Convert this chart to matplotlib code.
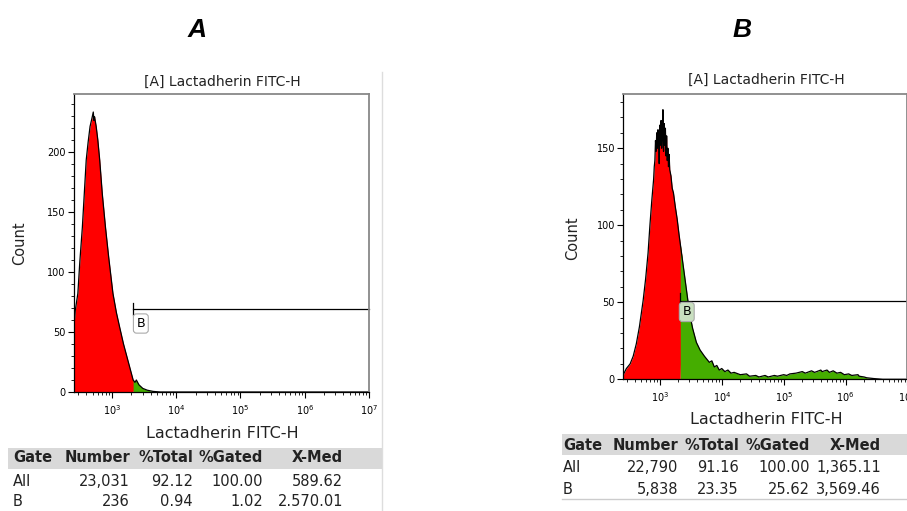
import numpy as np
import matplotlib
matplotlib.use('Agg')
import matplotlib.pyplot as plt
from matplotlib.ticker import MultipleLocator, LogLocator, LogFormatterMathtext, NullFormatter

# --- panel A histogram (log10 intensity, count) ---
a_logx = [2.41, 2.43, 2.47, 2.50, 2.54, 2.57, 2.60, 2.63, 2.66, 2.69, 2.71, 2.72, 2.73, 2.755,
          2.78, 2.81, 2.85, 2.90, 2.95, 3.016, 3.07, 3.12, 3.18, 3.25, 3.30, 3.33, 3.36,
          3.38, 3.42, 3.48, 3.55, 3.64, 3.75, 7.0]
a_count = [55, 68, 82, 108, 137, 165, 193, 208, 221, 228, 233, 226, 229, 221,
           210, 193, 165, 137, 112, 82, 66, 54, 40, 26, 16, 10, 8,
           10, 6, 3, 1.5, 0.5, 0, 0]

# --- panel B histogram ---
b_logx = [2.41, 2.46, 2.52, 2.57, 2.62, 2.67, 2.73, 2.77, 2.81, 2.84, 2.87, 2.90, 2.91,
          2.92, 2.93, 2.94, 2.95, 2.96, 2.97, 2.98, 2.99, 3.00, 3.01, 3.02, 3.03, 3.04,
          3.05, 3.06, 3.07, 3.08, 3.09, 3.10, 3.11, 3.12, 3.13, 3.14, 3.15, 3.16, 3.18,
          3.20, 3.22, 3.25, 3.28, 3.31, 3.33, 3.36, 3.40, 3.44, 3.48, 3.53, 3.59, 3.65,
          3.72, 3.80, 3.84, 3.88, 3.92, 3.96, 4.00, 4.05, 4.10, 4.15, 4.20, 4.30, 4.40,
          4.45, 4.55, 4.60, 4.70, 4.75, 4.85, 4.90, 5.00, 5.05, 5.10, 5.20, 5.30, 5.35,
          5.45, 5.50, 5.60, 5.62, 5.70, 5.74, 5.80, 5.86, 5.92, 5.98, 6.05, 6.10, 6.20,
          6.22, 6.30, 6.34, 6.45, 6.60, 7.0]
b_count = [3, 7, 10, 15, 23, 34, 51, 65, 82, 100, 116, 130, 138,
           142, 155, 148, 160, 150, 162, 158, 140, 165, 152, 168, 150, 160,
           175, 148, 166, 152, 163, 145, 158, 142, 150, 138, 146, 136, 132,
           124, 121, 112, 104, 94, 88, 79, 67, 55, 43, 33, 24, 19,
           15, 11, 12, 8, 9, 6, 7, 5, 6, 4, 4.5, 3, 3.5,
           2, 2.5, 1.5, 2.5, 1.5, 2.5, 2, 3, 2.5, 3.5, 4, 5, 4,
           5.5, 4.5, 6, 5, 6, 4.5, 5.5, 4, 4.5, 3, 3.5, 2.5, 3,
           2, 1.5, 1, 0.5, 0, 0]

# gate B (start log10 x, level)
gate_a = (3.33, 68.7)
gate_b = (3.33, 51)

title = '[A] Lactadherin FITC-H'
xlab = 'Lactadherin FITC-H'
tbl_header = ['Gate', 'Number', '%Total', '%Gated', 'X-Med']
tbl_a = [['All', '23,031', '92.12', '100.00', '589.62'],
         ['B', '236', '0.94', '1.02', '2.570.01']]
tbl_b = [['All', '22,790', '91.16', '100.00', '1,365.11'],
         ['B', '5,838', '23.35', '25.62', '3,569.46']]

RED = '#ff0000'
GREEN = '#45ad00'
W, H = 907, 511

fig = plt.figure(figsize=(W / 100, H / 100), dpi=100)
plt.rcParams['font.family'] = 'DejaVu Sans'


def px(x, y):
    return x / W, 1 - y / H


def draw_hist(ax, logx, cnt, gate, ymax, major_y, label_xy, label_fc):
    x = 10 ** np.array(logx)
    y = np.array(cnt, dtype=float)
    gx = 10 ** gate[0]
    ax.fill_between(x, y, where=x <= gx, color=RED, lw=0, interpolate=True)
    ax.fill_between(x, y, where=x >= gx, color=GREEN, lw=0, interpolate=True)
    ax.plot(x, y, color='black', lw=0.9)
    ax.plot([gx, 1e7], [gate[1], gate[1]], color='black', lw=0.9, clip_on=False)
    ax.plot([gx, gx], [gate[1] - 5, gate[1] + 5], color='black', lw=0.9)
    ax.text(10 ** label_xy[0], label_xy[1], 'B', fontsize=9, ha='center', va='center',
            bbox=dict(boxstyle='round,pad=0.25', fc=label_fc, ec='#aaaaaa', lw=0.8))
    ax.set_xscale('log')
    ax.set_xlim(10 ** 2.41, 1e7)
    ax.set_ylim(0, ymax)
    ax.xaxis.set_major_locator(LogLocator(base=10, subs=(1.0,)))
    ax.xaxis.set_major_formatter(LogFormatterMathtext())
    ax.xaxis.set_minor_locator(LogLocator(base=10, subs=np.arange(2, 10)))
    ax.xaxis.set_minor_formatter(NullFormatter())
    ax.set_xticks([1e3, 1e4, 1e5, 1e6, 1e7])
    ax.yaxis.set_major_locator(MultipleLocator(major_y))
    ax.yaxis.set_minor_locator(MultipleLocator(10))
    ax.tick_params(which='major', length=4, width=0.8, labelsize=7, pad=2)
    ax.tick_params(which='minor', length=2.5, width=0.6)
    ax.tick_params(axis='x', which='major', labelsize=7, pad=4)
    for s in ['top', 'right']:
        ax.spines[s].set_color('#888888')
        ax.spines[s].set_linewidth(1.3)
    for s in ['left', 'bottom']:
        ax.spines[s].set_linewidth(0.9)


# panel A
l, t = px(74, 94)
r, b = px(369, 392)
axA = fig.add_axes([l, b, r - l, t - b])
draw_hist(axA, a_logx, a_count, gate_a, 248, 50, (3.45, 57), 'white')

# panel B (its right edge runs off the picture, as in the original)
l, t = px(623.3, 94.3)
r, b = px(907.5, 379.3)
axB = fig.add_axes([l, b, r - l, t - b])
draw_hist(axB, b_logx, b_count, gate_b, 185, 50, (3.435, 43.7), '#c9dfc0')

# panel letters and labels
fig.text(*px(197, 30), 'A', fontsize=19, fontweight='bold', fontstyle='italic',
         family='Liberation Sans', ha='center', va='center')
fig.text(*px(742, 30), 'B', fontsize=19, fontweight='bold', fontstyle='italic',
         family='Liberation Sans', ha='center', va='center')
fig.text(*px(222, 82), title, fontsize=10, ha='center', va='center', color='#222222')
fig.text(*px(766, 80), title, fontsize=10, ha='center', va='center', color='#222222')
fig.text(*px(20, 243), 'Count', fontsize=10.5, rotation=90, ha='center', va='center', color='#222222')
fig.text(*px(573, 238), 'Count', fontsize=10.5, rotation=90, ha='center', va='center', color='#222222')
fig.text(*px(222, 434), xlab, fontsize=11.5, ha='center', va='center', color='#222222')
fig.text(*px(766, 419), xlab, fontsize=11.5, ha='center', va='center', color='#222222')

# panel divider
fig.add_artist(plt.Line2D([382 / W, 382 / W], [0, 1 - 72 / H], color='#dddddd', lw=1))


def draw_table(x0, x1, band_top, band_bot, col_right, y_head, y_rows, rows, line_y=None):
    fig.add_artist(plt.Rectangle(px(x0, band_bot), (x1 - x0) / W, (band_bot - band_top) / H,
                                 fc='#d9d9d9', ec='none'))
    gate_x = col_right[0]
    fig.text(*px(gate_x, y_head), tbl_header[0], fontsize=10.5, fontweight='bold',
             ha='left', va='center', color='#222222')
    for name, cx in zip(tbl_header[1:], col_right[1:]):
        fig.text(*px(cx, y_head), name, fontsize=10.5, fontweight='bold',
                 ha='right', va='center', color='#222222')
    for row, yy in zip(rows, y_rows):
        fig.text(*px(gate_x, yy), row[0], fontsize=10.5, ha='left', va='center', color='#222222')
        for val, cx in zip(row[1:], col_right[1:]):
            fig.text(*px(cx, yy), val, fontsize=10.5, ha='right', va='center', color='#222222')
    if line_y is not None:
        fig.add_artist(plt.Line2D([x0 / W, x1 / W], [1 - line_y / H] * 2, color='#cccccd', lw=1))


draw_table(8, 382, 448, 469, [13, 130, 193, 263, 343], 458, [481, 502], tbl_a)
draw_table(562, 907, 434, 455, [563, 678, 739, 810, 881], 445, [467, 489], tbl_b, line_y=499)

fig.savefig('out.png', dpi=100)
